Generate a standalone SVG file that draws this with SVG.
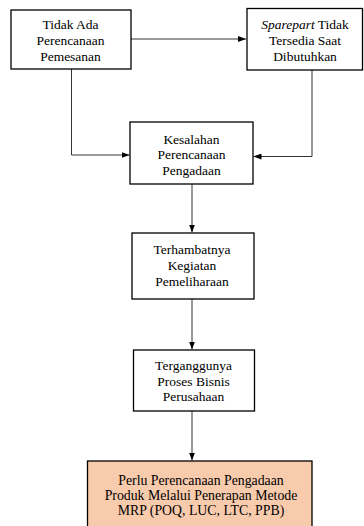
<svg xmlns="http://www.w3.org/2000/svg" width="364" height="526" viewBox="0 0 364 526">
<style>
.box{fill:#ffffff;stroke:#000000;stroke-width:1.3}
.hl{fill:#F8CBAD;stroke:#000000;stroke-width:1.3}
.t{font-family:'Liberation Serif','Times New Roman',Times,'DejaVu Serif',serif;font-size:13.5px;fill:#000000;text-anchor:middle}
.t2{font-size:13.8px}
.c{fill:none;stroke:#333333;stroke-width:1}
</style>
<defs>
<marker id="ah" viewBox="0 0 8 6" refX="8" refY="3" markerWidth="8" markerHeight="6" markerUnits="userSpaceOnUse" orient="auto">
<path d="M0,0 L8,3 L0,6 Z" fill="#000000"/>
</marker>
</defs>
<rect width="364" height="526" fill="#ffffff"/>
<g id="connectors">
<line class="c" x1="131" y1="39" x2="246" y2="39" marker-end="url(#ah)"/>
<polyline class="c" points="71.5,69 71.5,155 129.5,155" marker-end="url(#ah)"/>
<polyline class="c" points="312,70 312,156.5 253.5,156.5" marker-end="url(#ah)"/>
<line class="c" x1="192" y1="184" x2="192" y2="232.5" marker-end="url(#ah)"/>
<line class="c" x1="192" y1="299" x2="192" y2="349.5" marker-end="url(#ah)"/>
<line class="c" x1="192" y1="411" x2="192" y2="460.5" marker-end="url(#ah)"/>
</g>
<g id="n1">
<rect class="box" x="11" y="10" width="120" height="59"/>
<text class="t" x="70.5" y="29">Tidak Ada</text>
<text class="t" x="70.5" y="45">Perencanaan</text>
<text class="t" x="70.5" y="61">Pemesanan</text>
</g>
<g id="n2">
<rect class="box" x="247" y="8.5" width="115.5" height="61.5"/>
<text class="t" x="305" y="29"><tspan font-style="italic">Sparepart</tspan> Tidak</text>
<text class="t" x="305" y="45">Tersedia Saat</text>
<text class="t" x="305" y="61">Dibutuhkan</text>
</g>
<g id="n3">
<rect class="box" x="130" y="122" width="123" height="62"/>
<text class="t" x="191.5" y="143.5">Kesalahan</text>
<text class="t" x="191.5" y="159">Perencanaan</text>
<text class="t" x="191.5" y="174.5">Pengadaan</text>
</g>
<g id="n4">
<rect class="box" x="132" y="233" width="122" height="66"/>
<text class="t" x="192" y="254">Terhambatnya</text>
<text class="t" x="192" y="270">Kegiatan</text>
<text class="t" x="192" y="286">Pemeliharaan</text>
</g>
<g id="n5">
<rect class="box" x="133.5" y="350" width="121" height="61"/>
<text class="t" x="193.5" y="370">Terganggunya</text>
<text class="t" x="193.5" y="386">Proses Bisnis</text>
<text class="t" x="193.5" y="401">Perusahaan</text>
</g>
<g id="n6">
<rect class="hl" x="87.5" y="461" width="224.5" height="70"/>
<text class="t t2" x="201" y="485">Perlu Perencanaan Pengadaan</text>
<text class="t t2" x="201" y="500">Produk Melalui Penerapan Metode</text>
<text class="t t2" x="201" y="515">MRP (POQ, LUC, LTC, PPB)</text>
</g>
</svg>
